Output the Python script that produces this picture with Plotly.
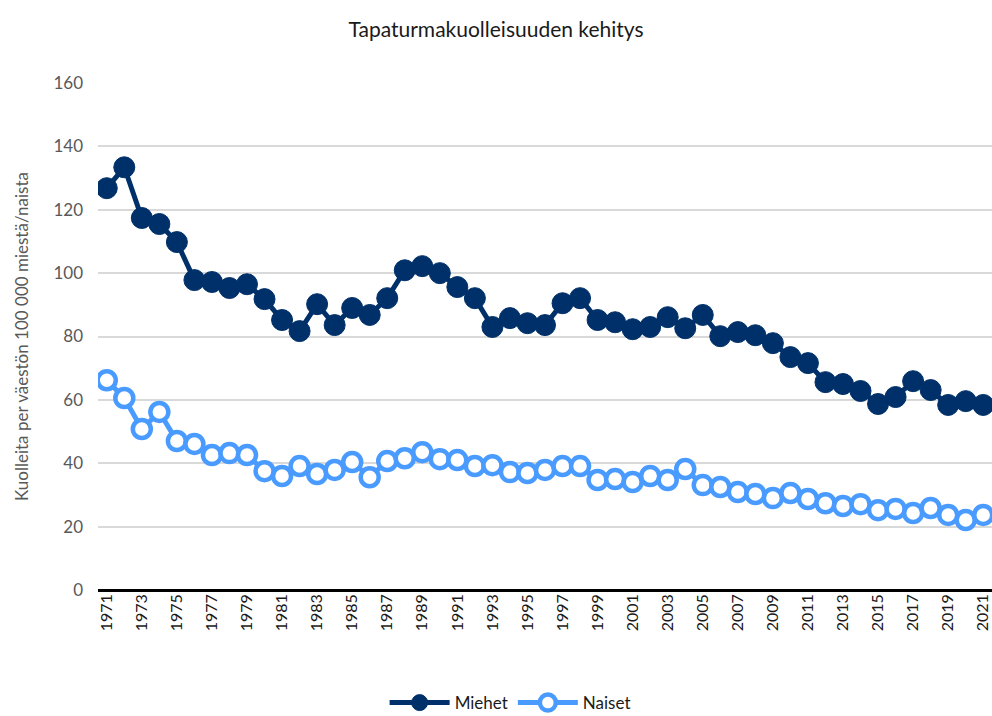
import plotly.graph_objects as go

years = list(range(1971, 2022))
miehet = [126.8, 133.4, 117.4, 115.5, 109.8, 97.8, 97.2, 95.3, 96.5, 91.8,
          85.2, 81.7, 90.2, 83.6, 89.0, 86.8, 92.1, 100.9, 102.2, 100.0,
          95.6, 92.1, 83.0, 85.8, 84.2, 83.6, 90.5, 92.1, 85.2, 84.5,
          82.3, 83.0, 86.1, 82.6, 86.8, 80.1, 81.4, 80.4, 77.9, 73.5,
          71.6, 65.6, 65.0, 62.8, 58.7, 60.9, 65.9, 63.1, 58.4, 59.6, 58.4]
naiset = [66.2, 60.6, 50.8, 56.2, 47.0, 46.1, 42.6, 43.2, 42.6, 37.5,
          36.0, 39.1, 36.6, 37.9, 40.4, 35.6, 40.7, 41.6, 43.5, 41.3,
          41.0, 39.1, 39.4, 37.2, 36.9, 37.9, 39.1, 39.1, 34.7, 35.0,
          34.1, 36.0, 34.7, 38.2, 33.1, 32.5, 30.9, 30.3, 29.0, 30.6,
          28.7, 27.4, 26.5, 27.1, 25.2, 25.6, 24.3, 25.9, 23.7, 22.1, 23.7]
tick_years = list(range(1971, 2022, 2))
tick_labels = [str(y) for y in tick_years]

FONT = "Lato, Roboto, sans-serif"
C_M = "#003069"
C_N = "#4a9bff"

fig = go.Figure()
fig.add_trace(go.Scatter(
    x=years, y=miehet, name="Miehet", mode="lines+markers",
    line=dict(color=C_M, width=5),
    marker=dict(size=21, color=C_M, line=dict(color=C_M, width=1)),
))
fig.add_trace(go.Scatter(
    x=years, y=naiset, name="Naiset", mode="lines+markers",
    line=dict(color=C_N, width=5),
    marker=dict(size=18, color="white", line=dict(color=C_N, width=4.5)),
))

fig.update_layout(
    width=992, height=716,
    paper_bgcolor="white", plot_bgcolor="white",
    margin=dict(l=98, r=0, t=83, b=126, autoexpand=False),
    font=dict(family=FONT, size=16, color="#595959"),
    title=dict(text="Tapaturmakuolleisuuden kehitys", x=0.5, xanchor="center",
               y=0.958, yanchor="middle",
               font=dict(family=FONT, size=21, color="#1a1a1a")),
    showlegend=True,
    legend=dict(orientation="h", x=0.461, xanchor="center", y=-0.223, yanchor="middle",
                font=dict(family=FONT, size=17, color="#1a1a1a"),
                itemwidth=60, traceorder="normal"),
    xaxis=dict(
        range=[1970.5, 2021.5], tickmode="array", tickvals=tick_years, ticktext=tick_labels,
        tickangle=-90, showgrid=False, zeroline=False, showline=False,
        ticks="", automargin=False,
        tickfont=dict(family=FONT, size=16, color="#1a1a1a"),
    ),
    yaxis=dict(
        range=[0, 160], dtick=20, showgrid=True, gridcolor="#d9d9d9", gridwidth=1.5,
        zeroline=True, zerolinecolor="#000000", zerolinewidth=3,
        showline=False, ticks="", ticklabelstandoff=14, automargin=False,
        tickfont=dict(family=FONT, size=17, color="#595959"),
        title=dict(text="Kuolleita per väestön 100 000 miestä/naista",
                   font=dict(family=FONT, size=17, color="#595959"), standoff=20),
    ),
)

fig.write_html("out.html", config={"displayModeBar": False},
               post_script="document.body.style.margin='0';document.body.style.overflow='hidden';")
